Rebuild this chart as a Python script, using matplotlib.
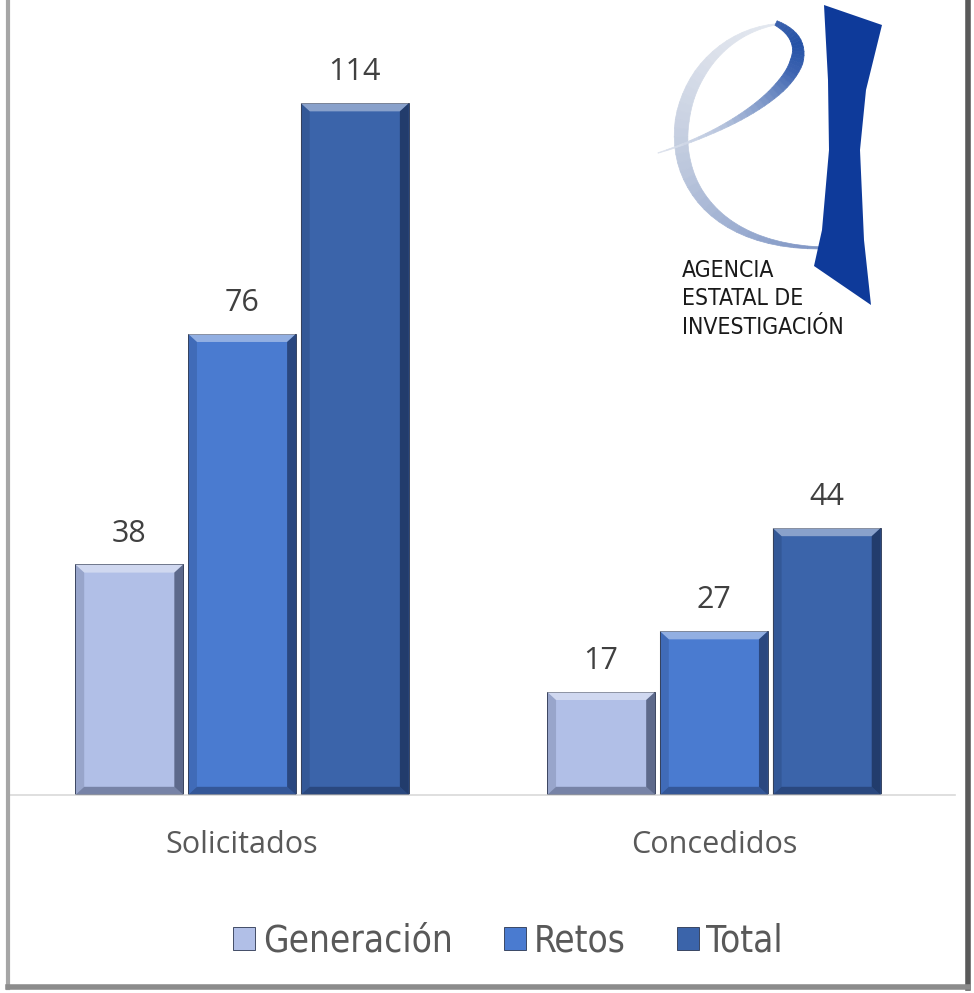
import numpy as np
import matplotlib.pyplot as plt
from matplotlib.patches import Polygon, Rectangle
from matplotlib.collections import PolyCollection
from matplotlib.lines import Line2D
from matplotlib.colors import to_rgb

# data
categories = ['Solicitados', 'Concedidos']
series = ['Generación', 'Retos', 'Total']
generacion = [38, 17]
retos = [76, 27]
total = [114, 44]
values = [generacion, retos, total]
colors = ['#B1BFE7', '#4A7BD0', '#3B64AA']

W, H = 974, 993
fig = plt.figure(figsize=(W / 100, H / 100), dpi=100)
fig.patch.set_facecolor('white')

# main axes: baseline at y=795px, 114 at y=103px
ax = fig.add_axes([8 / W, (H - 795) / H, 947 / W, 795 / H])
ax.set_xlim(-0.496, 1.511)
ax.set_ylim(0, 131)

barWidth = 0.229
step = 0.239
x = np.arange(len(categories))
bev_x, bev_y = 0.019, 1.35

handles = []
for i, (vals, col) in enumerate(zip(values, colors)):
    pos = x + (i - 1) * step
    bars = ax.bar(pos, vals, width=barWidth, color=col, edgecolor='#2a3550',
                  linewidth=0.6, zorder=2)
    handles.append(Rectangle((0, 0), 1, 1, facecolor=col, edgecolor='#2a3550', linewidth=0.6))
    for b, v in zip(bars, vals):
        x0, w, h = b.get_x(), b.get_width(), b.get_height()
        x1 = x0 + w
        # bevel: light top, dark right and bottom, slightly dark left
        ax.add_patch(Polygon([(x0, h), (x1, h), (x1 - bev_x, h - bev_y), (x0 + bev_x, h - bev_y)],
                             closed=True, facecolor='white', alpha=0.4, linewidth=0, zorder=3))
        ax.add_patch(Polygon([(x1, h), (x1, 0), (x1 - bev_x, bev_y), (x1 - bev_x, h - bev_y)],
                             closed=True, facecolor='#0b1530', alpha=0.5, linewidth=0, zorder=3))
        ax.add_patch(Polygon([(x0, 0), (x1, 0), (x1 - bev_x, bev_y), (x0 + bev_x, bev_y)],
                             closed=True, facecolor='#0b1530', alpha=0.35, linewidth=0, zorder=3))
        ax.add_patch(Polygon([(x0, 0), (x0, h), (x0 + bev_x, h - bev_y), (x0 + bev_x, bev_y)],
                             closed=True, facecolor='#0b1530', alpha=0.15, linewidth=0, zorder=3))
        ax.text(b.get_x() + w / 2, h + 2.6, str(v), ha='center', va='bottom',
                fontsize=22, color='#404040', family='Open Sans')

ax.set_xticks(x)
ax.set_xticklabels(categories, fontsize=22, color='#595959', family='Open Sans')
ax.tick_params(axis='x', length=0, pad=25)
ax.set_yticks([])
for s in ['top', 'left', 'right']:
    ax.spines[s].set_visible(False)
ax.spines['bottom'].set_color('#D9D9D9')
ax.spines['bottom'].set_linewidth(1.2)
ax.patch.set_alpha(0)

# legend
leg = fig.legend(handles, series, loc='center', bbox_to_anchor=(508 / W, (H - 941) / H),
                 ncol=3, frameon=False, handlelength=0.6, handleheight=0.6,
                 handletextpad=0.2, columnspacing=1.4,
                 prop={'family': 'DejaVu Sans', 'stretch': 'condensed', 'size': 26.5})
for t in leg.get_texts():
    t.set_color('#595959')

# logo (figure pixel coords, origin top-left)
def px(pts):
    return [(a / W, 1 - b / H) for a, b in pts]

def band(p0, p1, p2, p3, widths, cols, n=40):
    t = np.linspace(0, 1, n)[:, None]
    P = [np.array(p) for p in (p0, p1, p2, p3)]
    c = (1 - t) ** 3 * P[0] + 3 * (1 - t) ** 2 * t * P[1] + 3 * (1 - t) * t ** 2 * P[2] + t ** 3 * P[3]
    d = 3 * (1 - t) ** 2 * (P[1] - P[0]) + 6 * (1 - t) * t * (P[2] - P[1]) + 3 * t ** 2 * (P[3] - P[2])
    nrm = np.column_stack([-d[:, 1], d[:, 0]]) / np.linalg.norm(d, axis=1)[:, None]
    tw = np.interp(t[:, 0], np.linspace(0, 1, len(widths)), widths)[:, None] / 2
    a, b = c + nrm * tw, c - nrm * tw
    rgb = np.array([to_rgb(cc) for cc in cols])
    polys, fc = [], []
    for k in range(n - 1):
        polys.append(px([a[k], a[k + 1], b[k + 1], b[k]]))
        tk = (k + 0.5) / (n - 1)
        fc.append([np.interp(tk, np.linspace(0, 1, len(cols)), rgb[:, j]) for j in range(3)])
    pc = PolyCollection(polys, facecolors=fc, edgecolors=fc, linewidths=0.5,
                        transform=fig.transFigure, zorder=4)
    fig.add_artist(pc)

# big arc of the "e"
band((778, 24), (655, 40), (628, 245), (822, 248),
     [1, 6, 11, 14, 13, 10, 6, 2],
     ['#E4E8F0', '#DCE1EB', '#CDD5E4', '#BBC6DC', '#9FB0D2', '#7D94C4'])
# crossbar and top curl
band((658, 153), (770, 118), (835, 52), (776, 23),
     [0.5, 3, 7, 11, 13, 10, 5],
     ['#E0E5EE', '#B9C6DE', '#7C96C8', '#3C63B0', '#2451A6', '#3A61AE'])

bar_pts = [(824, 5), (828, 80), (829, 150), (822, 230), (814, 266), (871, 305),
           (864, 240), (860, 150), (866, 90), (882, 25)]
fig.patches.append(Polygon(px(bar_pts), closed=True, transform=fig.transFigure,
                           facecolor='#0E3A9A', edgecolor='none', zorder=5))

fig.text(682 / W, 1 - 259 / H, 'AGENCIA\nESTATAL DE\nINVESTIGACIÓN', ha='left', va='top',
         fontsize=16.5, color='#1a1a1a', linespacing=1.3,
         family='DejaVu Sans', fontstretch='condensed')

# frame
for (xs, ys, c, lw) in [([8, 8], [0, 988], '#A6A6A6', 3),
                        ([968, 968], [0, 988], '#595959', 4),
                        ([8, 968], [987, 987], '#8C8C8C', 4)]:
    fig.add_artist(Line2D([a / W for a in xs], [1 - b / H for b in ys],
                          transform=fig.transFigure, color=c, linewidth=lw, zorder=6))

fig.savefig('out.png', dpi=100)
